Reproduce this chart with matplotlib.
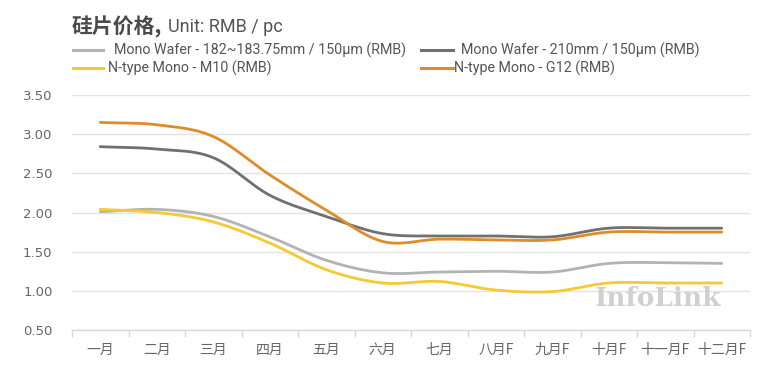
import numpy as np
import matplotlib
matplotlib.use("Agg")
import matplotlib.pyplot as plt
from matplotlib.lines import Line2D

plt.rcParams['font.family'] = ['Noto Sans CJK SC', 'DejaVu Sans']

months = ["一月", "二月", "三月", "四月", "五月", "六月", "七月", "八月F", "九月F", "十月F", "十一月F", "十二月F"]
mono_182 = [2.01, 2.04, 1.95, 1.69, 1.39, 1.23, 1.24, 1.25, 1.24, 1.35, 1.36, 1.35]
mono_210 = [2.84, 2.81, 2.70, 2.22, 1.95, 1.73, 1.70, 1.70, 1.69, 1.80, 1.80, 1.80]
ntype_m10 = [2.04, 2.00, 1.88, 1.61, 1.27, 1.10, 1.12, 1.01, 0.99, 1.10, 1.10, 1.10]
ntype_g12 = [3.15, 3.12, 2.97, 2.48, 2.03, 1.63, 1.66, 1.65, 1.65, 1.75, 1.75, 1.75]

labels = ["Mono Wafer - 182~183.75mm / 150μm (RMB)",
          "Mono Wafer - 210mm / 150μm (RMB)",
          "N-type Mono - M10 (RMB)",
          "N-type Mono - G12 (RMB)"]
colors = ["#b3b3b3", "#707070", "#f5c932", "#e08b2a"]
yticks = [0.5, 1.0, 1.5, 2.0, 2.5, 3.0, 3.5]


def smooth(y, n=30):
    # Catmull-Rom style smoothing (like Excel smoothed lines)
    y = np.asarray(y, float)
    x = np.arange(len(y), dtype=float)
    p = np.concatenate([[2 * y[0] - y[1]], y, [2 * y[-1] - y[-2]]])
    xs, ys = [], []
    for i in range(len(y) - 1):
        p0, p1, p2, p3 = p[i], p[i + 1], p[i + 2], p[i + 3]
        t = np.linspace(0, 1, n, endpoint=False)
        yy = 0.5 * ((2 * p1) + (-p0 + p2) * t + (2 * p0 - 5 * p1 + 4 * p2 - p3) * t ** 2
                    + (-p0 + 3 * p1 - 3 * p2 + p3) * t ** 3)
        xs.append(x[i] + t)
        ys.append(yy)
    xs.append([x[-1]])
    ys.append([y[-1]])
    return np.concatenate(xs), np.concatenate(ys)


fig = plt.figure(figsize=(7.78, 3.89), dpi=100)
ax = fig.add_axes([72 / 778, 1 - 330 / 389, (750 - 72) / 778, (330 - 95) / 389])

series = [mono_182, mono_210, ntype_m10, ntype_g12]
order = [0, 2, 1, 3]
for i in order:
    xs, ys = smooth(series[i])
    ax.plot(xs, ys, color=colors[i], lw=2.0, solid_capstyle='round', zorder=3)

ax.set_xlim(-0.5, len(months) - 0.5)
ax.set_ylim(0.5, 3.5)
ax.set_yticks(yticks)
ax.set_yticklabels([f"{v:.2f}" for v in yticks], color="#666666", fontsize=9.5,
                   family=['DejaVu Sans'])
ax.set_xticks(range(len(months)))
ax.set_xticklabels(months, color="#666666", fontsize=10)
ax.tick_params(axis='x', length=0, pad=9)
ax.tick_params(axis='y', length=0, pad=14)
ax.set_xticks(np.arange(-0.5, len(months), 1.0), minor=True)
ax.tick_params(axis='x', which='minor', length=5, color="#d9d9d9", width=1)
ax.grid(axis='y', color="#e3e3e3", lw=1)
ax.set_axisbelow(True)
for s in ['top', 'right', 'left']:
    ax.spines[s].set_visible(False)
ax.spines['bottom'].set_color("#d9d9d9")
ax.spines['bottom'].set_linewidth(1)

# watermark
ax.text(11.0, 1.06, "InfoLink", ha='right', va='top', fontsize=19, fontweight='bold',
        family='DejaVu Serif', color="#d0d0d0", zorder=2)

# title
fig.text(72 / 778, 1 - 27 / 389, "硅片价格,", fontsize=15, fontweight='bold',
         color="#4a4a4a", va='center', ha='left')
fig.text(168 / 778, 1 - 27 / 389, "Unit: RMB / pc", fontsize=13,
         color="#555555", va='center', ha='left', family=['Roboto', 'DejaVu Sans'])

# legend (manual)
leg_pos = [(73, 103, 50, 114), (421, 453, 50, 461), (73, 103, 68, 108), (421, 453, 68, 454)]
for i, (x0, x1, y0, tx) in enumerate(leg_pos):
    fig.add_artist(Line2D([x0 / 778, x1 / 778], [1 - y0 / 389, 1 - y0 / 389],
                          color=colors[i], lw=2.2, transform=fig.transFigure))
    fig.text(tx / 778, 1 - y0 / 389, labels[i], fontsize=10.3, color="#555555",
             va='center', ha='left', family=['Roboto', 'DejaVu Sans'])

fig.savefig("out.png", dpi=100, facecolor='white')
